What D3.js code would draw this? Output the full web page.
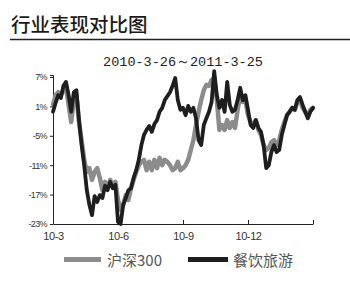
<!DOCTYPE html>
<html><head><meta charset="utf-8">
<script src="https://cdn.jsdelivr.net/npm/d3@7"></script>
<style>html,body{margin:0;padding:0;background:#fff;}svg{display:block;}</style>
</head><body>
<script>
const title = "行业表现对比图";
const subtitle = "2010-3-26～2011-3-25";
const seriesNames = ["沪深300", "餐饮旅游"];
const xTickLabels = ["10-3", "10-6", "10-9", "10-12", ""];
const yTicks = [7, 1, -5, -11, -17, -23];
const hs300 = [1.3,3.3,3.9,3.3,4.3,4.8,1.3,-2.2,2.3,3.3,-2.2,-5.9,-9.9,-12.4,-11.6,-14.0,-12.4,-11.6,-13.6,-16.1,
 -14.4,-15.7,-14.0,-15.2,-14.4,-18.1,-20.1,-19.1,-17.1,-18.1,-15.7,-14.0,-12.4,-11.0,-10.3,-9.9,-12.0,-10.3,-12.0,-9.9,
 -11.6,-9.5,-11.0,-9.9,-10.3,-11.0,-12.0,-11.6,-10.3,-12.0,-11.6,-11.0,-9.9,-7.9,-5.9,-2.8,-0.1,2.3,4.3,5.4,
 5.2,6.4,6.8,2.3,-3.8,-2.8,-3.8,-1.8,-3.4,-2.2,-3.4,0.3,3.3,1.9,2.3,-0.8,-2.2,-2.8,-1.8,-3.8,
 -4.8,-6.9,-7.9,-7.5,-6.3,-5.9,-6.9,-5.9,-3.8,-2.2,-0.8,-0.1,0.7,0.3,1.9,2.3,0.7,-0.1,-0.8,0.3,0.7];
const catering = [-0.1,1.7,3.3,2.7,5.2,6.0,3.3,-0.1,3.9,4.3,-1.8,-6.9,-11.0,-16.1,-19.1,-21.2,-17.3,-18.5,-17.1,-17.7,
 -15.2,-16.1,-14.4,-15.7,-15.0,-22.6,-23.0,-19.1,-17.7,-16.1,-15.7,-13.6,-12.0,-9.9,-6.9,-4.8,-3.8,-3.0,-4.2,-2.6,
 -1.8,-0.1,0.7,2.3,3.1,3.9,5.2,6.8,2.3,0.3,0.7,-0.8,1.1,-0.1,0.7,-1.4,-5.9,-6.9,-2.8,-1.4,
 -0.1,1.9,8.2,3.3,0.7,2.3,-0.1,6.0,1.3,-0.1,0.3,2.3,4.8,2.3,3.3,0.3,-2.8,-3.4,-1.8,-3.4,
 -4.2,-6.9,-11.6,-11.0,-8.3,-6.9,-8.3,-7.9,-4.8,-2.8,-0.8,-0.1,0.7,0.3,2.3,2.9,1.3,-0.1,-1.4,-0.1,0.7];
const colors = ["#8c8c8c", "#1e1e1e"];

const W = 350, H = 287;
const svg = d3.select("body").append("svg").attr("width", W).attr("height", H);

svg.append("text").attr("x", 11).attr("y", 32)
  .attr("font-family", "'Noto Sans CJK SC', sans-serif").attr("font-size", 19.5)
  .attr("font-weight", 500).attr("fill", "#1a1a1a").text(title);
svg.append("line").attr("x1", 10).attr("x2", 350).attr("y1", 39.5).attr("y2", 39.5)
  .attr("stroke", "#222").attr("stroke-width", 1.5);
svg.append("text").attr("x", 183).attr("y", 66).attr("text-anchor", "middle")
  .attr("font-family", "'Liberation Mono', monospace").attr("font-size", 13.5)
  .attr("fill", "#222").text(subtitle);

const N = catering.length;
const x = d3.scaleLinear().domain([0, N - 1]).range([53, 313]);
const y = d3.scaleLinear().domain([-23, 7]).range([224, 77]);

// axes
const gy = svg.append("g").attr("transform", "translate(53,0)")
  .call(d3.axisLeft(y).tickValues(yTicks).tickSize(3).tickFormat(d => d + "%"));
gy.select(".domain").attr("d", "M-3,75.5H0.5V224.5").attr("stroke", "#222");
gy.selectAll(".tick line").attr("stroke", "#222");
gy.selectAll(".tick text").attr("font-family", "Arial, 'Liberation Sans', sans-serif")
  .attr("font-size", 9).attr("fill", "#333").attr("letter-spacing", -0.6).attr("x", -6);

const tickIdx = xTickLabels.map((_, i) => i * (N - 1) / (xTickLabels.length - 1));
const gx = svg.append("g").attr("transform", "translate(0,224)")
  .call(d3.axisBottom(x).tickValues(tickIdx).tickSize(-4).tickSizeOuter(0)
    .tickFormat((d, i) => xTickLabels[i]));
gx.select(".domain").attr("stroke", "#222");
gx.selectAll(".tick line").attr("stroke", "#222");
gx.selectAll(".tick text").attr("font-family", "Arial, 'Liberation Sans', sans-serif")
  .attr("font-size", 11).attr("fill", "#333").attr("y", 8).attr("dy", "0.71em")
  .attr("letter-spacing", -0.4);

const line = d3.line().x((d, i) => x(i)).y(d => y(d)).curve(d3.curveLinear);
[hs300, catering].forEach((s, k) => {
  svg.append("path").datum(s).attr("d", line).attr("fill", "none")
    .attr("stroke", colors[k]).attr("stroke-width", k === 0 ? 4.5 : 3.8)
    .attr("stroke-linejoin", "round").attr("stroke-linecap", "round");
});

// legend
const legend = [{x1: 64, x2: 101, tx: 107}, {x1: 188, x2: 228, tx: 233}];
legend.forEach((l, k) => {
  svg.append("line").attr("x1", l.x1).attr("x2", l.x2).attr("y1", 259.5).attr("y2", 259.5)
    .attr("stroke", colors[k]).attr("stroke-width", 5);
  svg.append("text").attr("x", l.tx).attr("y", 266)
    .attr("font-family", "'Noto Sans CJK SC', sans-serif").attr("font-size", 15)
    .attr("fill", "#555").text(seriesNames[k]);
});
</script>
</body></html>
